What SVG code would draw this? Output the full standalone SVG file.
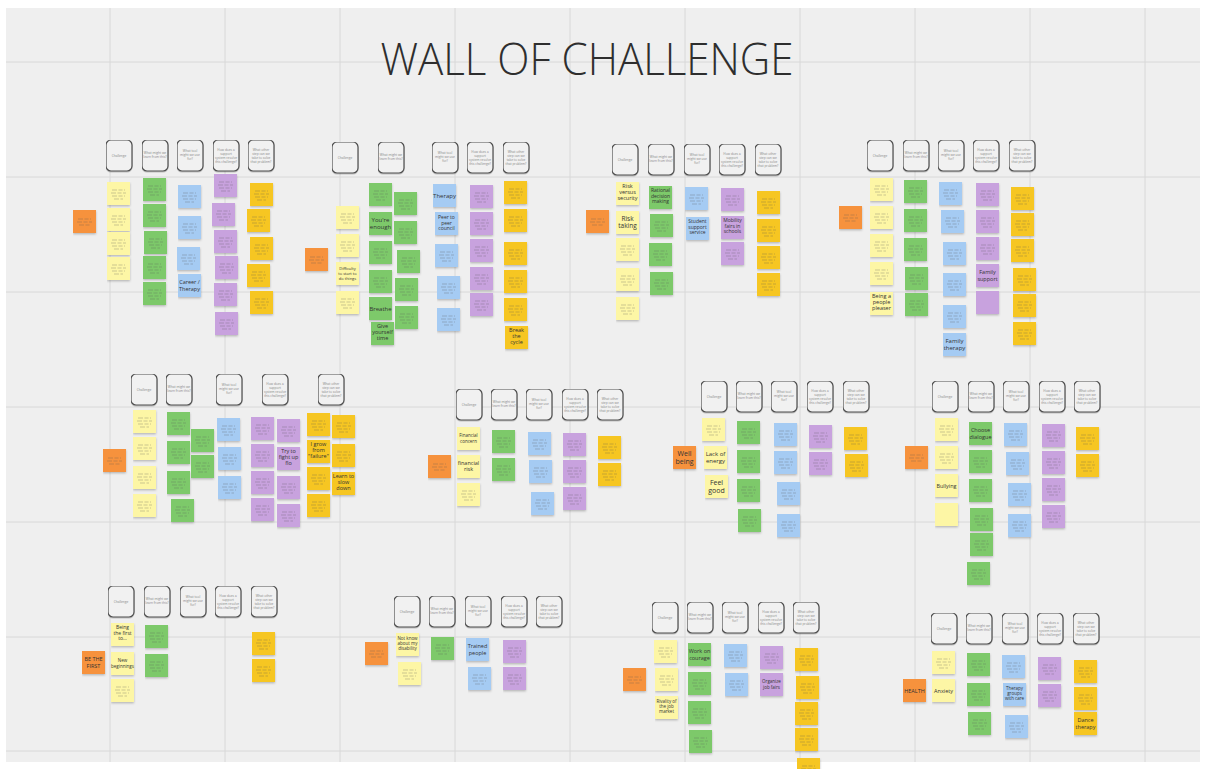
<svg xmlns="http://www.w3.org/2000/svg" xmlns:xlink="http://www.w3.org/1999/xlink" width="1206" height="769" viewBox="0 0 1206 769">
<style>
.grid line{stroke:#d8d8d8;stroke-width:1}
.sc{stroke:#555;stroke-opacity:.3;stroke-width:1;stroke-dasharray:5 1.5 4 1.5;fill:none}
.hd{fill:#f1f1f1;stroke:#4d4d4d;stroke-width:1.2}
.ht{font-family:"Open Sans","Liberation Sans",sans-serif;font-size:3.2px;fill:#888;text-anchor:middle}
.t{font-family:"Open Sans","Liberation Sans",sans-serif;fill:#333;text-anchor:middle}
.title{font-family:"Open Sans","Liberation Sans",sans-serif;font-size:44px;fill:#2e2e2e;font-weight:300}
</style>
<defs>
<filter id="sh" x="-20%" y="-20%" width="140%" height="150%"><feDropShadow dx="0" dy="1.2" stdDeviation="0.8" flood-color="#000" flood-opacity="0.25"/></filter>
<filter id="hs" x="-20%" y="-20%" width="140%" height="150%"><feDropShadow dx="0" dy="1" stdDeviation="0.7" flood-color="#000" flood-opacity="0.2"/></filter>
<symbol id="y"><rect width="23" height="23" fill="#fdf6a5" filter="url(#sh)"/></symbol>
<symbol id="Y"><rect width="23" height="23" fill="#fdf6a5" filter="url(#sh)"/><path class="sc" d="M5 8h13M4 11h15M5 14h13M7 17h9"/></symbol>
<symbol id="g"><rect width="23" height="23" fill="#7dc96b" filter="url(#sh)"/></symbol>
<symbol id="G"><rect width="23" height="23" fill="#7dc96b" filter="url(#sh)"/><path class="sc" d="M5 8h13M4 11h15M5 14h13M7 17h9"/></symbol>
<symbol id="b"><rect width="23" height="23" fill="#a5cbf3" filter="url(#sh)"/></symbol>
<symbol id="B"><rect width="23" height="23" fill="#a5cbf3" filter="url(#sh)"/><path class="sc" d="M5 8h13M4 11h15M5 14h13M7 17h9"/></symbol>
<symbol id="p"><rect width="23" height="23" fill="#c8a2de" filter="url(#sh)"/></symbol>
<symbol id="P"><rect width="23" height="23" fill="#c8a2de" filter="url(#sh)"/><path class="sc" d="M5 8h13M4 11h15M5 14h13M7 17h9"/></symbol>
<symbol id="d"><rect width="23" height="23" fill="#f6c624" filter="url(#sh)"/></symbol>
<symbol id="D"><rect width="23" height="23" fill="#f6c624" filter="url(#sh)"/><path class="sc" d="M5 8h13M4 11h15M5 14h13M7 17h9"/></symbol>
<symbol id="o"><rect width="23" height="23" fill="#f6923e" filter="url(#sh)"/></symbol>
<symbol id="O"><rect width="23" height="23" fill="#f6923e" filter="url(#sh)"/><path class="sc" d="M5 9h13M4 12h15M6 15h11"/></symbol>
<symbol id="H1"><rect class="hd" width="26" height="31" rx="5" filter="url(#hs)"/><text class="ht" x="13" y="17">Challenge</text></symbol>
<symbol id="H2"><rect class="hd" width="26" height="31" rx="5" filter="url(#hs)"/><text class="ht" x="13" y="14">What might we</text><text class="ht" x="13" y="18">learn from this?</text></symbol>
<symbol id="H3"><rect class="hd" width="26" height="31" rx="5" filter="url(#hs)"/><text class="ht" x="13" y="12">What tool</text><text class="ht" x="13" y="16">might we use</text><text class="ht" x="13" y="20">for?</text></symbol>
<symbol id="H4"><rect class="hd" width="26" height="31" rx="5" filter="url(#hs)"/><text class="ht" x="13" y="10.5">How does a</text><text class="ht" x="13" y="14.5">support</text><text class="ht" x="13" y="18.5">system resolve</text><text class="ht" x="13" y="22.5">this challenge?</text></symbol>
<symbol id="H5"><rect class="hd" width="26" height="31" rx="5" filter="url(#hs)"/><text class="ht" x="13" y="10.5">What other</text><text class="ht" x="13" y="14.5">step can we</text><text class="ht" x="13" y="18.5">take to solve</text><text class="ht" x="13" y="22.5">that problem?</text></symbol>
</defs>

<rect width="1206" height="769" fill="#ffffff"/>
<rect x="6" y="8" width="1194" height="754" fill="#efefef"/>
<g class="grid">
<line x1="110" y1="8" x2="110" y2="762"/><line x1="225" y1="8" x2="225" y2="762"/><line x1="340" y1="8" x2="340" y2="762"/><line x1="455" y1="8" x2="455" y2="762"/><line x1="570" y1="8" x2="570" y2="762"/><line x1="685" y1="8" x2="685" y2="762"/><line x1="800" y1="8" x2="800" y2="762"/><line x1="915" y1="8" x2="915" y2="762"/><line x1="1030" y1="8" x2="1030" y2="762"/><line x1="1145" y1="8" x2="1145" y2="762"/>
<line x1="6" y1="62" x2="1200" y2="62"/><line x1="6" y1="177" x2="1200" y2="177"/><line x1="6" y1="292" x2="1200" y2="292"/><line x1="6" y1="407" x2="1200" y2="407"/><line x1="6" y1="522" x2="1200" y2="522"/><line x1="6" y1="637" x2="1200" y2="637"/><line x1="6" y1="751" x2="1200" y2="751"/>
</g>

<text id="title" class="title" x="587" y="75" text-anchor="middle" textLength="413" lengthAdjust="spacingAndGlyphs">WALL OF CHALLENGE</text>

<!-- Cluster 1 -->
<g id="cluster1">
<use href="#H1" x="106" y="140"/><use href="#H2" x="142" y="140"/><use href="#H3" x="177" y="140"/><use href="#H4" x="213" y="140"/><use href="#H5" x="248" y="140"/>
<use href="#O" x="73" y="210"/>
<use href="#Y" x="107" y="182"/><use href="#Y" x="107" y="208"/><use href="#Y" x="107" y="232"/><use href="#Y" x="107" y="257"/>
<use href="#G" x="143" y="178"/><use href="#G" x="143" y="204"/><use href="#G" x="144" y="231"/><use href="#G" x="143" y="256"/><use href="#G" x="143" y="282"/>
<use href="#B" x="178" y="185"/><use href="#B" x="178" y="216"/><use href="#B" x="177" y="247"/><use href="#b" x="178" y="274"/>
<text class="t" font-size="5.5" x="189.5" y="284">Career /</text><text class="t" font-size="5.5" x="189.5" y="291">Therapy</text>
<use href="#P" x="214" y="174"/><use href="#P" x="212" y="203"/><use href="#P" x="214" y="230"/><use href="#P" x="215" y="256"/><use href="#P" x="214" y="283"/><use href="#P" x="215" y="312"/>
<use href="#D" x="250" y="183"/><use href="#D" x="247" y="209"/><use href="#D" x="250" y="237"/><use href="#D" x="247" y="264"/><use href="#D" x="250" y="291"/>
</g>

<!-- Cluster 2 -->
<g id="cluster2">
<use href="#H1" x="332" y="142"/><use href="#H2" x="378" y="142"/><use href="#H3" x="432" y="142"/><use href="#H4" x="467" y="142"/><use href="#H5" x="503" y="142"/>
<use href="#O" x="305" y="248"/>
<use href="#Y" x="336" y="206"/><use href="#Y" x="336" y="234"/><use href="#y" x="336" y="262"/><use href="#Y" x="336" y="291"/>
<text class="t" font-size="4" x="347.5" y="270">Difficulty</text><text class="t" font-size="4" x="347.5" y="275">to start to</text><text class="t" font-size="4" x="347.5" y="280">do things</text>
<use href="#G" x="369" y="183"/><use href="#g" x="369" y="212"/><use href="#G" x="369" y="241"/><use href="#G" x="369" y="270"/><use href="#g" x="369" y="297"/><use href="#g" x="371" y="322"/>
<text class="t" font-size="6" x="380.5" y="222">You're</text><text class="t" font-size="6" x="380.5" y="229">enough</text>
<text class="t" font-size="6" x="380.5" y="310.5">Breathe</text>
<text class="t" font-size="5.5" x="382.5" y="328">Give</text><text class="t" font-size="5.5" x="382.5" y="334">yourself</text><text class="t" font-size="5.5" x="382.5" y="340">time</text>
<use href="#G" x="394" y="192"/><use href="#G" x="394" y="221"/><use href="#G" x="397" y="250"/><use href="#G" x="395" y="278"/><use href="#G" x="395" y="306"/>
<use href="#b" x="433" y="184"/><use href="#b" x="435" y="212"/><use href="#B" x="435" y="244"/><use href="#B" x="437" y="276"/><use href="#B" x="437" y="308"/>
<text class="t" font-size="6" x="444.5" y="197.5">Therapy</text>
<text class="t" font-size="5" x="446.5" y="219">Peer to</text><text class="t" font-size="5" x="446.5" y="224.5">peer</text><text class="t" font-size="5" x="446.5" y="230">council</text>
<use href="#P" x="470" y="185"/><use href="#P" x="470" y="212"/><use href="#P" x="470" y="239"/><use href="#P" x="470" y="267"/><use href="#P" x="470" y="293"/>
<use href="#D" x="504" y="181"/><use href="#D" x="504" y="209"/><use href="#D" x="504" y="242"/><use href="#D" x="504" y="270"/><use href="#D" x="504" y="298"/><use href="#d" x="505" y="326"/>
<text class="t" font-size="5.5" x="516.5" y="332">Break</text><text class="t" font-size="5.5" x="516.5" y="338">the</text><text class="t" font-size="5.5" x="516.5" y="344">cycle</text>
</g>

<!-- Cluster 3 -->
<g id="cluster3">
<use href="#H1" x="612" y="144"/><use href="#H2" x="648" y="144"/><use href="#H3" x="684" y="144"/><use href="#H4" x="719" y="144"/><use href="#H5" x="755" y="144"/>
<use href="#O" x="586" y="210"/>
<use href="#y" x="616" y="182"/><use href="#y" x="616" y="211"/><use href="#Y" x="616" y="238"/><use href="#Y" x="616" y="268"/><use href="#Y" x="616" y="297"/>
<text class="t" font-size="5.5" x="627.5" y="188">Risk</text><text class="t" font-size="5.5" x="627.5" y="194">versus</text><text class="t" font-size="5.5" x="627.5" y="200">security</text>
<text class="t" font-size="6.5" x="627.5" y="221">Risk</text><text class="t" font-size="6.5" x="627.5" y="228">taking</text>
<use href="#g" x="649" y="186"/><use href="#G" x="650" y="214"/><use href="#G" x="649" y="243"/><use href="#G" x="650" y="272"/>
<text class="t" font-size="5" x="660.5" y="192">Rational</text><text class="t" font-size="5" x="660.5" y="197.5">decision</text><text class="t" font-size="5" x="660.5" y="203">making</text>
<use href="#B" x="685" y="187"/><use href="#b" x="686" y="217"/>
<text class="t" font-size="5" x="697.5" y="223">Student</text><text class="t" font-size="5" x="697.5" y="228.5">support</text><text class="t" font-size="5" x="697.5" y="234">service</text>
<use href="#P" x="721" y="188"/><use href="#p" x="721" y="216"/><use href="#P" x="721" y="242"/>
<text class="t" font-size="5" x="732.5" y="222">Mobility</text><text class="t" font-size="5" x="732.5" y="227.5">fairs in</text><text class="t" font-size="5" x="732.5" y="233">schools</text>
<use href="#D" x="757" y="191"/><use href="#D" x="757" y="219"/><use href="#D" x="757" y="246"/><use href="#D" x="757" y="273"/>
</g>

<!-- Cluster 4 -->
<g id="cluster4">
<use href="#H1" x="867" y="140"/><use href="#H2" x="903" y="140"/><use href="#H3" x="938" y="140"/><use href="#H4" x="973" y="140"/><use href="#H5" x="1009" y="140"/>
<use href="#O" x="839" y="206"/>
<use href="#Y" x="870" y="178"/><use href="#Y" x="870" y="206"/><use href="#Y" x="870" y="234"/><use href="#Y" x="870" y="262"/><use href="#y" x="870" y="292"/>
<text class="t" font-size="5.5" x="881.5" y="298">Being a</text><text class="t" font-size="5.5" x="881.5" y="304">people</text><text class="t" font-size="5.5" x="881.5" y="310">pleaser</text>
<use href="#G" x="904" y="180"/><use href="#G" x="904" y="209"/><use href="#G" x="904" y="238"/><use href="#G" x="905" y="267"/><use href="#G" x="905" y="293"/>
<use href="#B" x="939" y="182"/><use href="#B" x="941" y="210"/><use href="#B" x="943" y="242"/><use href="#B" x="943" y="273"/><use href="#B" x="943" y="305"/><use href="#b" x="943" y="333"/>
<text class="t" font-size="6" x="954.5" y="343">Family</text><text class="t" font-size="6" x="954.5" y="350">therapy</text>
<use href="#P" x="976" y="183"/><use href="#P" x="976" y="210"/><use href="#P" x="976" y="237"/><use href="#p" x="976" y="264"/><use href="#p" x="976" y="291"/>
<text class="t" font-size="5.5" x="987.5" y="274">Family</text><text class="t" font-size="5.5" x="987.5" y="280.5">support</text>
<use href="#D" x="1011" y="187"/><use href="#D" x="1011" y="213"/><use href="#D" x="1011" y="239"/><use href="#D" x="1013" y="268"/><use href="#D" x="1013" y="294"/><use href="#D" x="1013" y="322"/>
</g>

<!-- Cluster 5 -->
<g id="cluster5">
<use href="#H1" x="131" y="374"/><use href="#H2" x="166" y="374"/><use href="#H3" x="216" y="374"/><use href="#H4" x="262" y="374"/><use href="#H5" x="318" y="374"/>
<use href="#O" x="103" y="449"/>
<use href="#Y" x="133" y="410"/><use href="#Y" x="133" y="437"/><use href="#Y" x="133" y="466"/><use href="#Y" x="133" y="494"/>
<use href="#G" x="167" y="412"/><use href="#G" x="167" y="441"/><use href="#G" x="167" y="471"/><use href="#G" x="171" y="499"/>
<use href="#G" x="191" y="429"/><use href="#G" x="191" y="455"/>
<use href="#B" x="217" y="418"/><use href="#B" x="218" y="447"/><use href="#B" x="218" y="476"/>
<use href="#P" x="251" y="417"/><use href="#P" x="251" y="444"/><use href="#P" x="251" y="471"/><use href="#P" x="251" y="498"/>
<use href="#P" x="277" y="419"/><use href="#p" x="277" y="447"/><use href="#P" x="277" y="476"/><use href="#P" x="277" y="504"/>
<text class="t" font-size="5.5" x="288.5" y="453">Try to</text><text class="t" font-size="5.5" x="288.5" y="459">fight up</text><text class="t" font-size="5.5" x="288.5" y="465">flo</text>
<use href="#D" x="307" y="413"/><use href="#d" x="307" y="440"/><use href="#D" x="307" y="467"/><use href="#D" x="307" y="494"/>
<text class="t" font-size="5.5" x="318.5" y="446">I grow</text><text class="t" font-size="5.5" x="318.5" y="452">from</text><text class="t" font-size="5.5" x="318.5" y="458">"failure"</text>
<use href="#D" x="332" y="415"/><use href="#D" x="332" y="444"/><use href="#d" x="332" y="472"/>
<text class="t" font-size="5.5" x="343.5" y="478">Learn to</text><text class="t" font-size="5.5" x="343.5" y="484">slow</text><text class="t" font-size="5.5" x="343.5" y="490">down</text>
</g>

<!-- Cluster 6 -->
<g id="cluster6">
<use href="#H1" x="456" y="389"/><use href="#H2" x="491" y="389"/><use href="#H3" x="526" y="389"/><use href="#H4" x="562" y="389"/><use href="#H5" x="597" y="389"/>
<use href="#O" x="428" y="455"/>
<use href="#y" x="457" y="427"/><use href="#y" x="457" y="455"/><use href="#Y" x="457" y="483"/>
<text class="t" font-size="4.5" x="468.5" y="437">Financial</text><text class="t" font-size="4.5" x="468.5" y="442.5">concern</text>
<text class="t" font-size="5.5" x="468.5" y="465">financial</text><text class="t" font-size="5.5" x="468.5" y="471">risk</text>
<use href="#G" x="492" y="430"/><use href="#G" x="492" y="458"/>
<use href="#B" x="528" y="432"/><use href="#B" x="529" y="460"/><use href="#B" x="531" y="492"/>
<use href="#P" x="563" y="433"/><use href="#P" x="563" y="460"/><use href="#P" x="563" y="487"/>
<use href="#D" x="598" y="436"/><use href="#D" x="598" y="463"/>
</g>

<!-- Cluster 7 -->
<g id="cluster7">
<use href="#H1" x="701" y="381"/><use href="#H2" x="736" y="381"/><use href="#H3" x="771" y="381"/><use href="#H4" x="807" y="381"/><use href="#H5" x="843" y="381"/>
<use href="#o" x="673" y="446"/>
<text class="t" font-size="7" x="684.5" y="456">Well</text><text class="t" font-size="7" x="684.5" y="464">being</text>
<use href="#Y" x="702" y="418"/><use href="#y" x="704" y="446"/><use href="#y" x="705" y="475"/>
<text class="t" font-size="6" x="715.5" y="456">Lack of</text><text class="t" font-size="6" x="715.5" y="463">energy</text>
<text class="t" font-size="7" x="716.5" y="485">Feel</text><text class="t" font-size="7" x="716.5" y="493">good</text>
<use href="#G" x="737" y="421"/><use href="#G" x="737" y="450"/><use href="#G" x="737" y="479"/><use href="#G" x="738" y="509"/>
<use href="#B" x="774" y="423"/><use href="#B" x="774" y="451"/><use href="#B" x="777" y="482"/><use href="#B" x="777" y="514"/>
<use href="#P" x="809" y="425"/><use href="#P" x="809" y="452"/>
<use href="#D" x="844" y="427"/><use href="#D" x="845" y="454"/>
</g>

<!-- Cluster 8 -->
<g id="cluster8">
<use href="#H1" x="932" y="381"/><use href="#H2" x="968" y="381"/><use href="#H3" x="1003" y="381"/><use href="#H4" x="1039" y="381"/><use href="#H5" x="1074" y="381"/>
<use href="#O" x="905" y="446"/>
<use href="#Y" x="935" y="418"/><use href="#Y" x="935" y="446"/><use href="#y" x="935" y="474"/><use href="#y" x="935" y="503"/>
<text class="t" font-size="5.5" x="946.5" y="487.5">Bullying</text>
<use href="#g" x="969" y="422"/><use href="#G" x="969" y="450"/><use href="#G" x="969" y="479"/><use href="#G" x="970" y="508"/><use href="#G" x="970" y="533"/><use href="#G" x="967" y="562"/>
<text class="t" font-size="5.5" x="980.5" y="432">Choose</text><text class="t" font-size="5.5" x="980.5" y="438.5">dialogue</text>
<use href="#B" x="1004" y="423"/><use href="#B" x="1006" y="452"/><use href="#B" x="1008" y="483"/><use href="#B" x="1008" y="514"/>
<use href="#P" x="1042" y="424"/><use href="#P" x="1042" y="451"/><use href="#P" x="1042" y="478"/><use href="#P" x="1042" y="505"/>
<use href="#D" x="1076" y="427"/><use href="#D" x="1076" y="454"/>
</g>

<!-- Cluster 9 -->
<g id="cluster9">
<use href="#H1" x="108" y="586"/><use href="#H2" x="144" y="586"/><use href="#H3" x="180" y="586"/><use href="#H4" x="215" y="586"/><use href="#H5" x="251" y="586"/>
<use href="#o" x="82" y="651"/>
<text class="t" font-size="5.5" x="93.5" y="661">BE THE</text><text class="t" font-size="5.5" x="93.5" y="667.5">FIRST</text>
<use href="#y" x="111" y="623"/><use href="#y" x="111" y="652"/><use href="#Y" x="111" y="679"/>
<text class="t" font-size="5" x="122.5" y="629">Being</text><text class="t" font-size="5" x="122.5" y="634.5">the first</text><text class="t" font-size="5" x="122.5" y="640">to...</text>
<text class="t" font-size="4.5" x="122.5" y="662">New</text><text class="t" font-size="4.5" x="122.5" y="667.5">beginnings</text>
<use href="#G" x="145" y="625"/><use href="#G" x="145" y="654"/>
<use href="#D" x="252" y="632"/><use href="#D" x="252" y="659"/>
</g>

<!-- Cluster 10 -->
<g id="cluster10">
<use href="#H1" x="394" y="596"/><use href="#H2" x="429" y="596"/><use href="#H3" x="465" y="596"/><use href="#H4" x="501" y="596"/><use href="#H5" x="536" y="596"/>
<use href="#O" x="365" y="642"/>
<use href="#y" x="396" y="633"/><use href="#Y" x="398" y="662"/>
<text class="t" font-size="4.5" x="407.5" y="639.5">Not know</text><text class="t" font-size="4.5" x="407.5" y="644.5">about my</text><text class="t" font-size="4.5" x="407.5" y="649.5">disability</text>
<use href="#G" x="431" y="637"/>
<use href="#b" x="466" y="638"/><use href="#B" x="468" y="667"/>
<text class="t" font-size="5.5" x="477.5" y="648">Trained</text><text class="t" font-size="5.5" x="477.5" y="654.5">people</text>
<use href="#P" x="503" y="640"/><use href="#P" x="503" y="667"/>
</g>

<!-- Cluster 11 -->
<g id="cluster11">
<use href="#H1" x="652" y="602"/><use href="#H2" x="687" y="602"/><use href="#H3" x="722" y="602"/><use href="#H4" x="758" y="602"/><use href="#H5" x="793" y="602"/>
<use href="#O" x="623" y="668"/>
<use href="#Y" x="654" y="640"/><use href="#Y" x="655" y="668"/><use href="#y" x="655" y="696"/>
<text class="t" font-size="4.5" x="666.5" y="703">Rivality of</text><text class="t" font-size="4.5" x="666.5" y="708">the job</text><text class="t" font-size="4.5" x="666.5" y="713">market</text>
<use href="#g" x="688" y="643"/><use href="#G" x="688" y="672"/><use href="#G" x="688" y="701"/><use href="#G" x="689" y="730"/>
<text class="t" font-size="5.5" x="699.5" y="653">Work on</text><text class="t" font-size="5.5" x="699.5" y="659.5">courage</text>
<use href="#B" x="724" y="644"/><use href="#B" x="725" y="673"/>
<use href="#P" x="760" y="646"/><use href="#p" x="760" y="673"/>
<text class="t" font-size="4.5" x="771.5" y="683">Organize</text><text class="t" font-size="4.5" x="771.5" y="688.5">job fairs</text>
<use href="#D" x="795" y="648"/><use href="#D" x="796" y="676"/><use href="#D" x="795" y="702"/><use href="#D" x="795" y="728"/><use href="#D" x="797" y="758"/>
</g>

<!-- Cluster 12 -->
<g id="cluster12">
<use href="#H1" x="931" y="613"/><use href="#H2" x="966" y="613"/><use href="#H3" x="1002" y="613"/><use href="#H4" x="1037" y="613"/><use href="#H5" x="1073" y="613"/>
<use href="#o" x="903" y="679"/>
<text class="t" font-size="5.5" x="914.5" y="692.5">HEALTH</text>
<use href="#Y" x="932" y="651"/><use href="#y" x="932" y="679"/>
<text class="t" font-size="5.5" x="943.5" y="692.5">Anxiety</text>
<use href="#G" x="967" y="653"/><use href="#G" x="967" y="683"/><use href="#G" x="968" y="712"/>
<use href="#B" x="1002" y="655"/><use href="#b" x="1003" y="683"/><use href="#B" x="1005" y="715"/>
<text class="t" font-size="4.5" x="1014.5" y="690">Therapy</text><text class="t" font-size="4.5" x="1014.5" y="695">groups</text><text class="t" font-size="4.5" x="1014.5" y="700">with care</text>
<use href="#P" x="1038" y="657"/><use href="#P" x="1038" y="684"/>
<use href="#D" x="1074" y="660"/><use href="#D" x="1074" y="687"/><use href="#d" x="1074" y="712"/>
<text class="t" font-size="5.5" x="1085.5" y="722">Dance</text><text class="t" font-size="5.5" x="1085.5" y="728.5">therapy</text>
</g>
</svg>
